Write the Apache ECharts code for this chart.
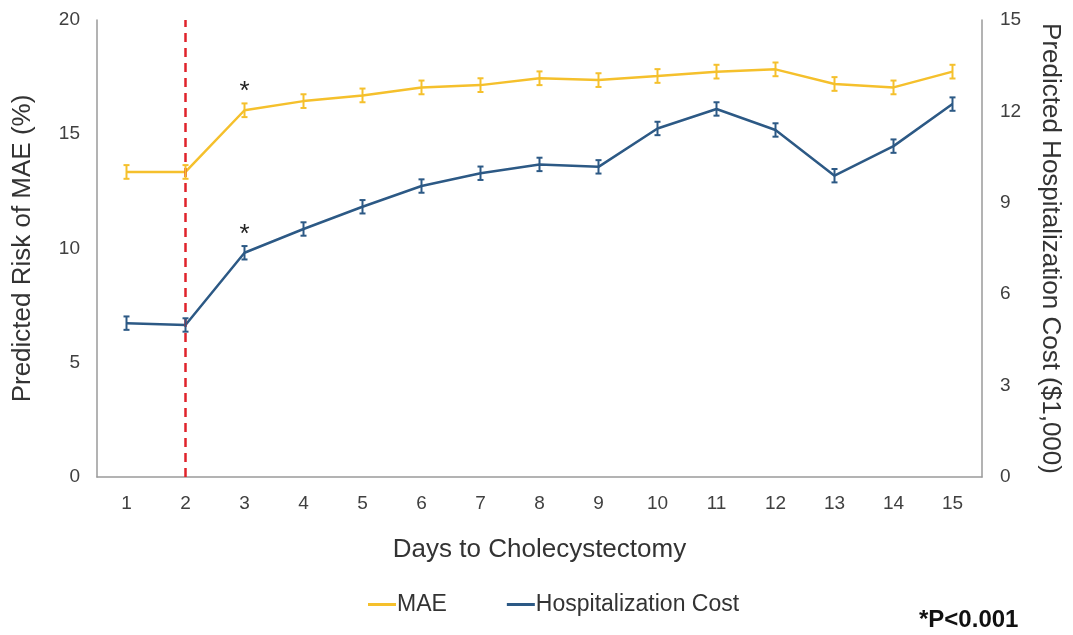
<!DOCTYPE html>
<html><head><meta charset="utf-8">
<script src="https://cdn.jsdelivr.net/npm/echarts@6/dist/echarts.min.js"></script>
<style>html,body{margin:0;padding:0;background:#fff}#c{width:1073px;height:635px}</style>
</head><body><div id="c"></div>
<script>
const days = ['1','2','3','4','5','6','7','8','9','10','11','12','13','14','15'];
const maeValues = [13.35,13.35,16.05,16.45,16.7,17.05,17.15,17.45,17.37,17.55,17.74,17.84,17.2,17.05,17.74];
const maeErr = [0.3,0.3,0.3,0.3,0.3,0.3,0.3,0.3,0.3,0.3,0.3,0.3,0.3,0.3,0.3];
const costValues = [5.05,4.99,7.36,8.14,8.87,9.55,9.97,10.26,10.18,11.44,12.08,11.39,9.89,10.86,12.24];
const costErr = [0.22,0.22,0.22,0.22,0.22,0.22,0.22,0.22,0.22,0.22,0.22,0.22,0.22,0.22,0.22];
const leftTicks = [0,5,10,15,20];
const rightTicks = [0,3,6,9,12,15];

const yellow = '#F5C02C', blue = '#2C5985';
const FONT = 'Liberation Sans, Arial';
const chart = echarts.init(document.getElementById('c'));
function errData(v, e){ return v.map((x,i)=>[i, x-e[i], x+e[i]]); }
function errSeries(name, v, e, color, yIdx){
  return {type:'custom', name:name+' err', yAxisIndex:yIdx, z:5, silent:true,
    data: errData(v,e),
    renderItem:(params, api)=>{
      const lo = api.coord([api.value(0), api.value(1)]);
      const hi = api.coord([api.value(0), api.value(2)]);
      const w = 3;
      const st = {stroke:color, lineWidth:2};
      return {type:'group', children:[
        {type:'line', shape:{x1:lo[0],y1:lo[1],x2:hi[0],y2:hi[1]}, style:st},
        {type:'line', shape:{x1:lo[0]-w,y1:lo[1],x2:lo[0]+w,y2:lo[1]}, style:st},
        {type:'line', shape:{x1:hi[0]-w,y1:hi[1],x2:hi[0]+w,y2:hi[1]}, style:st}
      ]};
    }};
}
const axisLbl = {color:'#404040', fontSize:19, fontFamily:FONT};
const nameStyle = {color:'#333', fontSize:26, fontFamily:FONT};
chart.setOption({
  animation:false,
  grid:{left:97, right:91, top:20, bottom:158},
  xAxis:{type:'category', data:days, boundaryGap:true,
    name:'Days to Cholecystectomy', nameLocation:'middle', nameGap:60,
    nameTextStyle:nameStyle,
    axisLine:{lineStyle:{color:'#9a9a9a', width:1.5}}, axisTick:{show:false},
    axisLabel:Object.assign({margin:17}, axisLbl)},
  yAxis:[
    {type:'value', min:leftTicks[0], max:leftTicks[leftTicks.length-1], interval:5,
     name:'Predicted Risk of MAE (%)', nameLocation:'middle', nameGap:61,
     nameTextStyle:nameStyle,
     axisLine:{show:true, lineStyle:{color:'#9a9a9a', width:1.5}}, axisTick:{show:false},
     splitLine:{show:false}, axisLabel:Object.assign({margin:17}, axisLbl)},
    {type:'value', position:'right', min:rightTicks[0], max:rightTicks[rightTicks.length-1], interval:3,
     name:'Predicted Hospitalization Cost ($1,000)', nameLocation:'middle', nameGap:55, nameRotate:-90,
     nameTextStyle:nameStyle,
     axisLine:{show:true, lineStyle:{color:'#9a9a9a', width:1.5}}, axisTick:{show:false},
     splitLine:{show:false}, axisLabel:Object.assign({margin:18}, axisLbl)}
  ],
  legend:{bottom:14, left:363, itemGap:60, icon:'rect', itemWidth:28, itemHeight:3,
    textStyle:{color:'#333', fontSize:23, fontFamily:FONT, padding:[0,0,0,-4]},
    data:['MAE','Hospitalization Cost']},
  series:[
    {name:'MAE', type:'line', yAxisIndex:0, data:maeValues, symbol:'none',
     lineStyle:{color:yellow, width:2.5}, itemStyle:{color:yellow}, z:3,
     markLine:{silent:true, symbol:'none', label:{show:false},
       lineStyle:{color:'#E0232B', type:[9,6], width:2.5},
       data:[{xAxis:'2'}]},
     markPoint:{symbol:'circle', symbolSize:1, itemStyle:{color:'transparent'},
       label:{show:true, formatter:'*', color:'#222', fontSize:26, offset:[0,-18], fontFamily:FONT},
       data:[{coord:['3', maeValues[2]]}]}},
    {name:'Hospitalization Cost', type:'line', yAxisIndex:1, data:costValues, symbol:'none',
     lineStyle:{color:blue, width:2.5}, itemStyle:{color:blue}, z:3,
     markPoint:{symbol:'circle', symbolSize:1, itemStyle:{color:'transparent'},
       label:{show:true, formatter:'*', color:'#222', fontSize:26, offset:[0,-18], fontFamily:FONT},
       data:[{coord:['3', costValues[2]]}]}},
    errSeries('MAE', maeValues, maeErr, yellow, 0),
    errSeries('Cost', costValues, costErr, blue, 1)
  ],
  graphic:[{type:'text', left:919, top:608,
    style:{text:'*P<0.001', fill:'#111', fontSize:24, fontWeight:'bold', fontFamily:FONT}}]
});
</script></body></html>
